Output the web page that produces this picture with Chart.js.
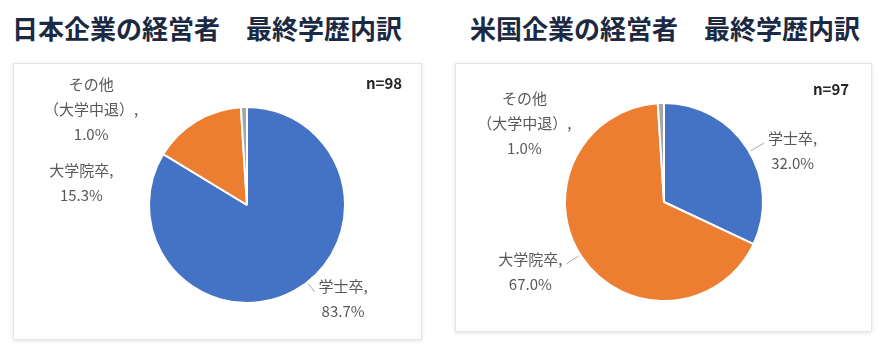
<!DOCTYPE html>
<html lang="ja">
<head>
<meta charset="utf-8">
<script src="https://cdn.jsdelivr.net/npm/chart.js@4"></script>
<style>
    body {
        margin: 0;
        width: 886px;
        height: 351px;
        position: relative;
        overflow: hidden;
        background: #fff;
        font-family: 'Noto Sans CJK JP', sans-serif;
    }
    .title {
        position: absolute;
        top: 13px;
        font-size: 26px;
        line-height: 30px;
        font-weight: bold;
        color: #1b2942;
        white-space: nowrap;
    }
    .box {
        position: absolute;
        background: #fff;
        border: 1px solid #e4e4e4;
        box-shadow: 0 1px 4px rgba(0, 0, 0, 0.12);
    }
    .box canvas { position: absolute; left: 0; top: 0; }
    .n {
        position: absolute;
        font-size: 15px;
        font-weight: bold;
        color: #262626;
    }
</style>
</head>
<body>
<div class="title" style="left:12px">日本企業の経営者　最終学歴内訳</div>
<div class="title" style="left:470px">米国企業の経営者　最終学歴内訳</div>

<div class="box" style="left:13px; top:63px; width:407px; height:275px">
    <canvas id="jpChart"></canvas>
    <div class="n" style="left:352px; top:8px">n=98</div>
</div>
<div class="box" style="left:455px; top:63px; width:415px; height:267px">
    <canvas id="usChart"></canvas>
    <div class="n" style="left:357px; top:14px">n=97</div>
</div>

<script>
// data
const categories = ['学士卒', '大学院卒', ['その他', '（大学中退）']];
const jpValues = [83.7, 15.3, 1.0];
const usValues = [32.0, 67.0, 1.0];
const sliceColors = ['#4472C4', '#ED7D31', '#A5A5A5'];

// label placement relative to pie centre, in units of radius: [dx, dy, leader line]
const jpPlace = [[0.98, 0.96, true], [-1.69, -0.23, false], [-1.59, -0.98, false]];
const usPlace = [[1.30, -0.52, true], [-1.35, 0.70, true], [-1.41, -0.80, false]];

// draws "name, value%" labels next to each slice
const pieLabels = {
    id: 'pieLabels',
    afterDatasetsDraw(chart, args, opts) {
        const ctx = chart.ctx;
        const ds = chart.data.datasets[0];
        const meta = chart.getDatasetMeta(0);
        ctx.save();
        ctx.font = '15px "Noto Sans CJK JP", sans-serif';
        ctx.textAlign = 'center';
        ctx.textBaseline = 'middle';
        meta.data.forEach((arc, i) => {
            const p = opts.place[i];
            const r = arc.outerRadius;
            const cx = arc.x + p[0] * r;
            const cy = arc.y + p[1] * r;
            const lines = [].concat(chart.data.labels[i]);
            lines[lines.length - 1] += ',';
            lines.push(ds.data[i].toFixed(1) + '%');
            const lh = 25;
            const y0 = cy - (lines.length - 1) * lh / 2;
            ctx.fillStyle = '#595959';
            lines.forEach((t, k) => ctx.fillText(t, cx, y0 + k * lh));
            if (p[2]) {
                const w = Math.max(...lines.map(t => ctx.measureText(t).width));
                const side = cx > arc.x ? -1 : 1;
                const lx = cx + side * (w / 2 + 4);
                const ly = y0 + 5;
                const dx = lx - arc.x, dy = ly - arc.y, d = Math.hypot(dx, dy);
                ctx.beginPath();
                ctx.moveTo(lx, ly);
                ctx.lineTo(arc.x + dx / d * (r + 2), arc.y + dy / d * (r + 2));
                ctx.strokeStyle = '#a6a6a6';
                ctx.lineWidth = 1;
                ctx.stroke();
            }
        });
        ctx.restore();
    }
};

function makePie(id, values, place, padding) {
    return new Chart(document.getElementById(id), {
        type: 'pie',
        data: {
            labels: categories,
            datasets: [{
                data: values,
                backgroundColor: sliceColors,
                borderColor: '#ffffff',
                borderWidth: 2,
            }]
        },
        options: {
            responsive: true,
            maintainAspectRatio: false,
            animation: false,
            layout: { padding: padding },
            plugins: {
                legend: { display: false },
                tooltip: { enabled: false },
                pieLabels: { place: place }
            }
        },
        plugins: [pieLabels]
    });
}

const jpChart = makePie('jpChart', jpValues, jpPlace, { top: 42, bottom: 35, left: 134, right: 75 });
const usChart = makePie('usChart', usValues, usPlace, { top: 38, bottom: 29, left: 108, right: 107 });
</script>
</body>
</html>
